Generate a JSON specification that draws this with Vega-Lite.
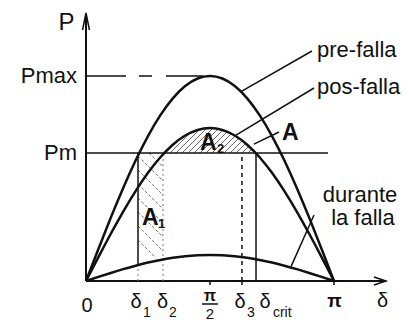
{
  "$schema": "https://vega.github.io/schema/vega-lite/v6.json",
  "width": 409,
  "height": 324,
  "padding": 0,
  "autosize": {"type": "fit", "contains": "padding"},
  "background": "white",
  "config": {"view": {"stroke": null}, "font": "Liberation Sans"},
  "datasets": {
    "curves": [
      {"c": "pre", "x": 0, "y": 0}, {"c": "pre", "x": 9, "y": 0.1564}, {"c": "pre", "x": 18, "y": 0.309}, {"c": "pre", "x": 27, "y": 0.454}, {"c": "pre", "x": 36, "y": 0.5878}, {"c": "pre", "x": 45, "y": 0.7071}, {"c": "pre", "x": 54, "y": 0.809}, {"c": "pre", "x": 63, "y": 0.891}, {"c": "pre", "x": 72, "y": 0.9511}, {"c": "pre", "x": 81, "y": 0.9877}, {"c": "pre", "x": 90, "y": 1}, {"c": "pre", "x": 99, "y": 0.9877}, {"c": "pre", "x": 108, "y": 0.9511}, {"c": "pre", "x": 117, "y": 0.891}, {"c": "pre", "x": 126, "y": 0.809}, {"c": "pre", "x": 135, "y": 0.7071}, {"c": "pre", "x": 144, "y": 0.5878}, {"c": "pre", "x": 153, "y": 0.454}, {"c": "pre", "x": 162, "y": 0.309}, {"c": "pre", "x": 171, "y": 0.1564}, {"c": "pre", "x": 180, "y": 0},
      {"c": "pos", "x": 0, "y": 0}, {"c": "pos", "x": 9, "y": 0.1167}, {"c": "pos", "x": 18, "y": 0.2305}, {"c": "pos", "x": 27, "y": 0.3387}, {"c": "pos", "x": 36, "y": 0.4385}, {"c": "pos", "x": 45, "y": 0.5275}, {"c": "pos", "x": 54, "y": 0.6035}, {"c": "pos", "x": 63, "y": 0.6647}, {"c": "pos", "x": 72, "y": 0.7095}, {"c": "pos", "x": 81, "y": 0.7368}, {"c": "pos", "x": 90, "y": 0.746}, {"c": "pos", "x": 99, "y": 0.7368}, {"c": "pos", "x": 108, "y": 0.7095}, {"c": "pos", "x": 117, "y": 0.6647}, {"c": "pos", "x": 126, "y": 0.6035}, {"c": "pos", "x": 135, "y": 0.5275}, {"c": "pos", "x": 144, "y": 0.4385}, {"c": "pos", "x": 153, "y": 0.3387}, {"c": "pos", "x": 162, "y": 0.2305}, {"c": "pos", "x": 171, "y": 0.1167}, {"c": "pos", "x": 180, "y": 0},
      {"c": "dur", "x": 0, "y": 0}, {"c": "dur", "x": 9, "y": 0.0199}, {"c": "dur", "x": 18, "y": 0.0392}, {"c": "dur", "x": 27, "y": 0.0577}, {"c": "dur", "x": 36, "y": 0.0747}, {"c": "dur", "x": 45, "y": 0.0898}, {"c": "dur", "x": 54, "y": 0.1027}, {"c": "dur", "x": 63, "y": 0.1132}, {"c": "dur", "x": 72, "y": 0.1208}, {"c": "dur", "x": 81, "y": 0.1254}, {"c": "dur", "x": 90, "y": 0.127}, {"c": "dur", "x": 99, "y": 0.1254}, {"c": "dur", "x": 108, "y": 0.1208}, {"c": "dur", "x": 117, "y": 0.1132}, {"c": "dur", "x": 126, "y": 0.1027}, {"c": "dur", "x": 135, "y": 0.0898}, {"c": "dur", "x": 144, "y": 0.0747}, {"c": "dur", "x": 153, "y": 0.0577}, {"c": "dur", "x": 162, "y": 0.0392}, {"c": "dur", "x": 171, "y": 0.0199}, {"c": "dur", "x": 180, "y": 0}
    ],
    "hatch": [
      {"a": "A1", "x": 45.73, "y": 0.6244, "x2": 55.89, "y2": 0.5561},
      {"a": "A1", "x": 37.74, "y": 0.6098, "x2": 55.89, "y2": 0.4878},
      {"a": "A1", "x": 37.74, "y": 0.5415, "x2": 55.89, "y2": 0.4195},
      {"a": "A1", "x": 37.74, "y": 0.4732, "x2": 55.89, "y2": 0.3512},
      {"a": "A1", "x": 37.74, "y": 0.4049, "x2": 55.89, "y2": 0.2829},
      {"a": "A1", "x": 37.74, "y": 0.3366, "x2": 55.89, "y2": 0.2146},
      {"a": "A1", "x": 37.74, "y": 0.2683, "x2": 55.89, "y2": 0.1463},
      {"a": "A1", "x": 37.74, "y": 0.2, "x2": 50.8, "y2": 0.1122},
      {"a": "A2", "x": 56.61, "y": 0.6244, "x2": 75.48, "y2": 0.7512},
      {"a": "A2", "x": 60.97, "y": 0.6244, "x2": 79.84, "y2": 0.7512},
      {"a": "A2", "x": 65.32, "y": 0.6244, "x2": 84.19, "y2": 0.7512},
      {"a": "A2", "x": 69.68, "y": 0.6244, "x2": 88.55, "y2": 0.7512},
      {"a": "A2", "x": 74.03, "y": 0.6244, "x2": 92.9, "y2": 0.7512},
      {"a": "A2", "x": 78.39, "y": 0.6244, "x2": 97.26, "y2": 0.7512},
      {"a": "A2", "x": 82.74, "y": 0.6244, "x2": 101.61, "y2": 0.7512},
      {"a": "A2", "x": 87.1, "y": 0.6244, "x2": 105.97, "y2": 0.7512},
      {"a": "A2", "x": 91.45, "y": 0.6244, "x2": 110.32, "y2": 0.7512},
      {"a": "A2", "x": 95.81, "y": 0.6244, "x2": 114.68, "y2": 0.7512},
      {"a": "A2", "x": 100.16, "y": 0.6244, "x2": 119.03, "y2": 0.7512},
      {"a": "A2", "x": 104.52, "y": 0.6244, "x2": 123.39, "y2": 0.7512},
      {"a": "A2", "x": 108.87, "y": 0.6244, "x2": 127.74, "y2": 0.7512},
      {"a": "A2", "x": 113.23, "y": 0.6244, "x2": 132.1, "y2": 0.7512},
      {"a": "A2", "x": 117.58, "y": 0.6244, "x2": 136.45, "y2": 0.7512},
      {"a": "A2", "x": 121.94, "y": 0.6244, "x2": 140.81, "y2": 0.7512}
    ],
    "segs": [
      {"k": "axis", "x": 0, "y": 0, "x2": 217.7, "y2": 0},
      {"k": "axis", "x": 0, "y": 0, "x2": 0, "y2": 1.2976},
      {"k": "pm", "x": 0, "y": 0.6244, "x2": 175.6, "y2": 0.6244},
      {"k": "pmax", "x": 0, "y": 1, "x2": 85, "y2": 1},
      {"k": "solid", "x": 37.74, "y": 0.0777, "x2": 37.74, "y2": 0.6244},
      {"k": "solid", "x": 123.4, "y": 0, "x2": 123.4, "y2": 0.6244},
      {"k": "dotted", "x": 37.74, "y": 0, "x2": 37.74, "y2": 0.0777},
      {"k": "dotted", "x": 55.89, "y": 0, "x2": 55.89, "y2": 0.6244},
      {"k": "dashed", "x": 113.2, "y": 0, "x2": 113.2, "y2": 0.6244},
      {"k": "leader", "x": 164.0, "y": 1.122, "x2": 112.5, "y2": 0.924},
      {"k": "leader", "x": 165.5, "y": 0.9415, "x2": 108.9, "y2": 0.712},
      {"k": "leader", "x": 140.1, "y": 0.727, "x2": 121.9, "y2": 0.668},
      {"k": "leader", "x": 165.5, "y": 0.322, "x2": 148.8, "y2": 0.07},
      {"k": "leader", "x": 84.2, "y": -0.1122, "x2": 95.8, "y2": -0.1122},
      {"k": "tick", "x": 90, "y": 0, "x2": 90, "y2": -0.02},
      {"k": "tick", "x": 180, "y": 0, "x2": 180, "y2": -0.02},
      {"k": "tick", "x": 113.2, "y": 0, "x2": 113.2, "y2": -0.02}
    ],
    "arrows": [
      {"id": "x", "o": 1, "x": 208.97, "y": 0.0195}, {"id": "x", "o": 2, "x": 217.74, "y": 0}, {"id": "x", "o": 3, "x": 208.97, "y": -0.0195},
      {"id": "y", "o": 1, "x": -2.5, "y": 1.2244}, {"id": "y", "o": 2, "x": 0, "y": 1.3073}, {"id": "y", "o": 3, "x": 2.5, "y": 1.2244}
    ],
    "labels": [
      {"r": "P", "t": "P", "x": -14.15, "y": 1.2244},
      {"r": "ylab", "t": "Pmax", "x": -6.53, "y": 0.9659},
      {"r": "ylab", "t": "Pm", "x": -6.53, "y": 0.5902},
      {"r": "xl", "t": "0", "x": 0.73, "y": -0.1512},
      {"r": "xl", "t": "δ", "x": 36.3, "y": -0.1317},
      {"r": "sub", "t": "1", "x": 41.4, "y": -0.1756},
      {"r": "xl", "t": "δ", "x": 55.5, "y": -0.1317},
      {"r": "sub", "t": "2", "x": 60.2, "y": -0.1756},
      {"r": "pi", "t": "π", "x": 90, "y": -0.0976},
      {"r": "frac2", "t": "2", "x": 90, "y": -0.1854},
      {"r": "xl", "t": "δ", "x": 111.8, "y": -0.1317},
      {"r": "sub", "t": "3", "x": 116.9, "y": -0.1756},
      {"r": "xl", "t": "δ", "x": 129.9, "y": -0.1317},
      {"r": "sub", "t": "crit", "x": 135.7, "y": -0.1756},
      {"r": "piax", "t": "π", "x": 180.4, "y": -0.1268},
      {"r": "xl", "t": "δ", "x": 215.2, "y": -0.1268},
      {"r": "ann", "t": "pre-falla", "x": 167.7, "y": 1.0927},
      {"r": "ann", "t": "pos-falla", "x": 167.7, "y": 0.9122},
      {"r": "Ab", "t": "A", "x": 142.3, "y": 0.6878},
      {"r": "annc", "t": "durante", "x": 198.9, "y": 0.3854},
      {"r": "annc", "t": "la falla", "x": 201, "y": 0.2732},
      {"r": "Ab", "t": "A", "x": 82.7, "y": 0.639},
      {"r": "subA", "t": "2", "x": 95.1, "y": 0.6244},
      {"r": "Ab", "t": "A", "x": 40.6, "y": 0.2732},
      {"r": "subA", "t": "1", "x": 52.3, "y": 0.2585}
    ]
  },
  "encoding": {
    "x": {"field": "x", "type": "quantitative", "scale": {"domain": [-62.42, 234.44], "nice": false, "zero": false}, "axis": null},
    "y": {"field": "y", "type": "quantitative", "scale": {"domain": [-0.2098, 1.3707], "nice": false, "zero": false}, "axis": null}
  },
  "layer": [
    {
      "data": {"name": "hatch"},
      "transform": [{"filter": "datum.a == 'A1'"}],
      "mark": {"type": "rule", "color": "#777777", "strokeWidth": 1, "strokeDash": [3, 2]},
      "encoding": {"x2": {"field": "x2"}, "y2": {"field": "y2"}}
    },
    {
      "data": {"name": "hatch"},
      "transform": [{"filter": "datum.a == 'A2'"}],
      "mark": {"type": "rule", "color": "#666666", "strokeWidth": 1},
      "encoding": {"x2": {"field": "x2"}, "y2": {"field": "y2"}}
    },
    {
      "data": {"name": "curves"},
      "transform": [{"filter": "datum.c == 'pos' && datum.x >= 54 && datum.x <= 144"}],
      "mark": {"type": "area", "color": "white", "interpolate": "natural"},
      "encoding": {"y2": {"datum": 0.76}}
    },
    {
      "data": {"name": "segs"},
      "transform": [{"filter": "datum.k == 'axis'"}],
      "mark": {"type": "rule", "color": "#111111", "strokeWidth": 2},
      "encoding": {"x2": {"field": "x2"}, "y2": {"field": "y2"}}
    },
    {
      "data": {"name": "segs"},
      "transform": [{"filter": "datum.k == 'pm' || datum.k == 'solid' || datum.k == 'leader' || datum.k == 'tick'"}],
      "mark": {"type": "rule", "color": "#111111", "strokeWidth": 1.5},
      "encoding": {"x2": {"field": "x2"}, "y2": {"field": "y2"}}
    },
    {
      "data": {"name": "segs"},
      "transform": [{"filter": "datum.k == 'pmax'"}],
      "mark": {"type": "rule", "color": "#111111", "strokeWidth": 1.5, "strokeDash": [40, 13, 13, 14]},
      "encoding": {"x2": {"field": "x2"}, "y2": {"field": "y2"}}
    },
    {
      "data": {"name": "segs"},
      "transform": [{"filter": "datum.k == 'dotted'"}],
      "mark": {"type": "rule", "color": "#777777", "strokeWidth": 1, "strokeDash": [2, 3]},
      "encoding": {"x2": {"field": "x2"}, "y2": {"field": "y2"}}
    },
    {
      "data": {"name": "segs"},
      "transform": [{"filter": "datum.k == 'dashed'"}],
      "mark": {"type": "rule", "color": "#111111", "strokeWidth": 1.5, "strokeDash": [4, 4]},
      "encoding": {"x2": {"field": "x2"}, "y2": {"field": "y2"}}
    },
    {
      "data": {"name": "curves"},
      "mark": {"type": "line", "color": "#111111", "strokeWidth": 2.5, "interpolate": "natural"},
      "encoding": {"detail": {"field": "c"}}
    },
    {
      "data": {"name": "arrows"},
      "mark": {"type": "line", "color": "#111111", "strokeWidth": 1.5},
      "encoding": {"detail": {"field": "id"}, "order": {"field": "o"}}
    },
    {
      "data": {"name": "labels"},
      "transform": [{"filter": "datum.r == 'P'"}],
      "mark": {"type": "text", "fontSize": 24, "align": "center", "baseline": "alphabetic", "color": "#111111"},
      "encoding": {"text": {"field": "t"}}
    },
    {
      "data": {"name": "labels"},
      "transform": [{"filter": "datum.r == 'ylab'"}],
      "mark": {"type": "text", "fontSize": 22, "align": "right", "baseline": "alphabetic", "color": "#111111"},
      "encoding": {"text": {"field": "t"}}
    },
    {
      "data": {"name": "labels"},
      "transform": [{"filter": "datum.r == 'xl'"}],
      "mark": {"type": "text", "fontSize": 20, "align": "center", "baseline": "alphabetic", "color": "#111111"},
      "encoding": {"text": {"field": "t"}}
    },
    {
      "data": {"name": "labels"},
      "transform": [{"filter": "datum.r == 'sub'"}],
      "mark": {"type": "text", "fontSize": 14, "align": "left", "baseline": "alphabetic", "color": "#111111"},
      "encoding": {"text": {"field": "t"}}
    },
    {
      "data": {"name": "labels"},
      "transform": [{"filter": "datum.r == 'pi'"}],
      "mark": {"type": "text", "fontSize": 16, "fontWeight": "bold", "align": "center", "baseline": "alphabetic", "color": "#111111"},
      "encoding": {"text": {"field": "t"}}
    },
    {
      "data": {"name": "labels"},
      "transform": [{"filter": "datum.r == 'frac2'"}],
      "mark": {"type": "text", "fontSize": 15, "align": "center", "baseline": "alphabetic", "color": "#111111"},
      "encoding": {"text": {"field": "t"}}
    },
    {
      "data": {"name": "labels"},
      "transform": [{"filter": "datum.r == 'piax'"}],
      "mark": {"type": "text", "fontSize": 19, "fontWeight": "bold", "align": "center", "baseline": "alphabetic", "color": "#111111"},
      "encoding": {"text": {"field": "t"}}
    },
    {
      "data": {"name": "labels"},
      "transform": [{"filter": "datum.r == 'ann'"}],
      "mark": {"type": "text", "fontSize": 22, "align": "left", "baseline": "alphabetic", "color": "#111111"},
      "encoding": {"text": {"field": "t"}}
    },
    {
      "data": {"name": "labels"},
      "transform": [{"filter": "datum.r == 'annc'"}],
      "mark": {"type": "text", "fontSize": 22, "align": "center", "baseline": "alphabetic", "color": "#111111"},
      "encoding": {"text": {"field": "t"}}
    },
    {
      "data": {"name": "labels"},
      "transform": [{"filter": "datum.r == 'Ab'"}],
      "mark": {"type": "text", "fontSize": 23, "fontWeight": "bold", "align": "left", "baseline": "alphabetic", "color": "#111111"},
      "encoding": {"text": {"field": "t"}}
    },
    {
      "data": {"name": "labels"},
      "transform": [{"filter": "datum.r == 'subA'"}],
      "mark": {"type": "text", "fontSize": 13, "fontWeight": "bold", "align": "left", "baseline": "alphabetic", "color": "#111111"},
      "encoding": {"text": {"field": "t"}}
    }
  ]
}
